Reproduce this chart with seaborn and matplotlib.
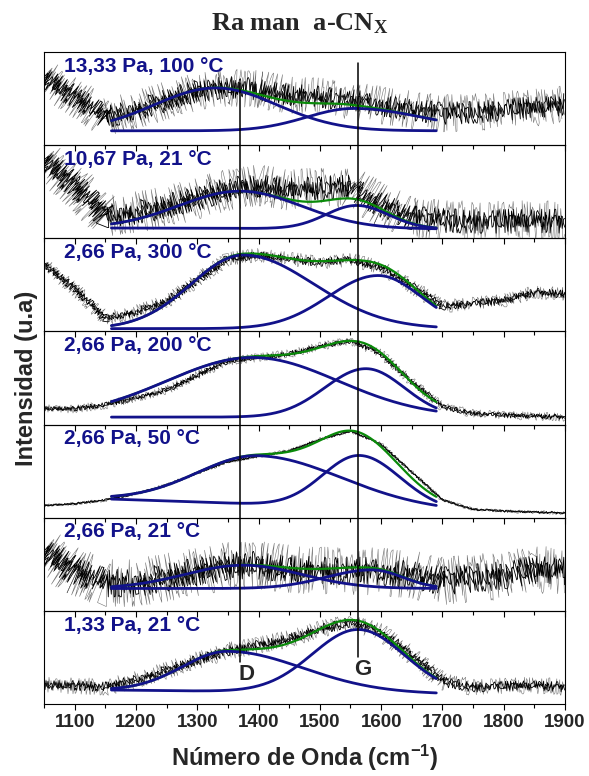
import numpy as np
import matplotlib
matplotlib.use('Agg')
import matplotlib.pyplot as plt
import seaborn as sns
from matplotlib.ticker import MultipleLocator

sns.set_theme(style='ticks')
plt.rcParams['font.family'] = ['Liberation Sans', 'DejaVu Sans']
plt.rcParams['mathtext.default'] = 'regular'

# sample conditions, top to bottom
labels = ['13,33 Pa, 100 °C', '10,67 Pa, 21 °C', '2,66 Pa, 300 °C',
          '2,66 Pa, 200 °C', '2,66 Pa, 50 °C', '2,66 Pa, 21 °C',
          '1,33 Pa, 21 °C']

# measured spectra (smoothed level, panel units 0-1), read every 50 cm-1
wavenumber = [1050, 1100, 1150, 1200, 1250, 1300, 1350, 1400, 1450,
              1500, 1550, 1600, 1650, 1700, 1750, 1800, 1850, 1900]
spec_13pa_100 = [.73, .52, .30, .38, .48, .58, .62, .60, .54, .52, .48, .43, .38, .34, .35, .38, .40, .44]
spec_10pa_21 = [.84, .57, .24, .28, .34, .43, .52, .57, .52, .54, .55, .36, .22, .19, .18, .18, .19, .18]
spec_2pa_300 = [.72, .46, .14, .21, .32, .55, .78, .82, .78, .74, .77, .69, .48, .27, .30, .33, .42, .40]
spec_2pa_200 = [.17, .17, .21, .29, .37, .53, .68, .72, .76, .84, .90, .76, .46, .19, .12, .10, .09, .08]
spec_2pa_50 = [.13, .15, .19, .26, .35, .48, .60, .66, .72, .84, .93, .79, .49, .19, .09, .07, .06, .05]
spec_2pa_21 = [.64, .43, .30, .30, .36, .42, .48, .49, .45, .43, .43, .42, .39, .32, .35, .38, .44, .43]
spec_1pa_21 = [.20, .20, .18, .26, .36, .47, .57, .63, .70, .80, .88, .77, .52, .24, .18, .19, .20, .18]
spectra = [spec_13pa_100, spec_10pa_21, spec_2pa_300, spec_2pa_200,
           spec_2pa_50, spec_2pa_21, spec_1pa_21]
noise_px = [11, 12, 4, 2.5, 1, 14, 5]

# fit results: linear baseline (1160 and 1690 cm-1) + D and G bands
fit_range = [1160, 1690]
base_left = [.154, .11, .03, .08, .20, .24, .15]
base_right = [.154, .10, .03, .08, .08, .24, .11]
d_center = [1330, 1370, 1375, 1390, 1400, 1375, 1350]
d_height = [.46, .40, .79, .64, .52, .25, .43]
d_wleft = [100, 100, 85, 140, 100, 95, 74]
d_wright = [100, 100, 115, 140, 135, 95, 122]
g_center = [1555, 1560, 1595, 1575, 1565, 1585, 1563]
g_height = [.24, .25, .57, .52, .56, .20, .68]
g_wleft = [77, 50, 81, 67, 60, 75, 75]
g_wright = [112, 52, 70, 63, 66, 50, 75]

d_line, g_line = 1370, 1562

navy = '#12128a'
green = '#0a8a0a'


def band(x, c, h, wl, wr):
    w = np.where(x < c, wl, wr)
    return h * np.exp(-0.5 * ((x - c) / w) ** 2)


fig, axes = plt.subplots(7, 1, sharex=True, figsize=(5.89, 7.76), dpi=100)
fig.subplots_adjust(left=0.0747, right=0.9593, top=0.933, bottom=0.0928, hspace=0)

xfit = np.arange(fit_range[0], fit_range[1] + 1, 2.0)

# (amplitude factor, wiggle length, randomness, colour, width) for the noise look
noise_style = [(1.7, 0.13, 3, '0.45', 0.4),
               (1.0, 0.1, 3, 'black', 0.6),
               (0.5, 0.07, 3, 'black', 0.6)]

for i, ax in enumerate(axes):
    ax.set_facecolor('none')
    for amp, length, rnd, col, lw in noise_style:
        sns.lineplot(x=wavenumber, y=spectra[i], ax=ax, color=col, lw=lw, zorder=1)
        ax.lines[-1].set_sketch_params(noise_px[i] * amp, length, rnd)

    base = np.interp(xfit, fit_range, [base_left[i], base_right[i]])
    d_fit = band(xfit, d_center[i], d_height[i], d_wleft[i], d_wright[i])
    g_fit = band(xfit, g_center[i], g_height[i], g_wleft[i], g_wright[i])
    sns.lineplot(x=xfit, y=base + d_fit + g_fit, ax=ax, color=green, lw=1.6, zorder=2)
    sns.lineplot(x=xfit, y=base + d_fit, ax=ax, color=navy, lw=2.0, zorder=3)
    sns.lineplot(x=xfit, y=base + g_fit, ax=ax, color=navy, lw=2.0, zorder=3)

    # D and G position markers
    if i == 0:
        ax.axvline(d_line, ymin=0, ymax=0.67, color='black', lw=1.1, zorder=4)
        ax.axvline(g_line, ymin=0, ymax=0.88, color='black', lw=1.1, zorder=4)
    elif i == len(axes) - 1:
        ax.axvline(d_line, ymin=0.45, ymax=1, color='black', lw=1.1, zorder=4)
        ax.axvline(g_line, ymin=0.50, ymax=1, color='black', lw=1.1, zorder=4)
    else:
        ax.axvline(d_line, color='black', lw=1.1, zorder=4)
        ax.axvline(g_line, color='black', lw=1.1, zorder=4)

    ax.text(0.038, 0.95, labels[i], transform=ax.transAxes, ha='left', va='top',
            fontsize=15, fontweight='bold', color=navy)

    ax.set_xlim(1050, 1900)
    ax.set_ylim(0, 1)
    ax.set_yticks([])
    ax.set_ylabel('')
    ax.xaxis.set_major_locator(MultipleLocator(100))
    ax.xaxis.set_minor_locator(MultipleLocator(50))
    ax.tick_params(axis='x', which='major', direction='out', length=4, width=0.8,
                   color='black', labelsize=13.5, pad=3)
    ax.tick_params(axis='x', which='minor', direction='out', length=3, width=0.8,
                   color='black')
    for sp in ax.spines.values():
        sp.set_color('black')
        sp.set_linewidth(0.8)

bottom_ax = axes[-1]
bottom_ax.text(1381, 0.32, 'D', ha='center', va='center', fontsize=16, fontweight='bold')
bottom_ax.text(1570, 0.37, 'G', ha='center', va='center', fontsize=16, fontweight='bold')
plt.setp(bottom_ax.get_xticklabels(), fontweight='bold')
bottom_ax.set_xlabel('Número de Onda (cm$^{-1}$)', fontsize=17, fontweight='bold', labelpad=9)

fig.supylabel('Intensidad (u.a)', x=0.025, y=0.513, fontsize=17, fontweight='bold')
fig.suptitle('Ra man  a-CN$_X$', x=0.509, y=0.969, va='center', fontsize=19,
             fontweight='bold', fontfamily='Liberation Serif')

fig.savefig('out.png', dpi=100)
